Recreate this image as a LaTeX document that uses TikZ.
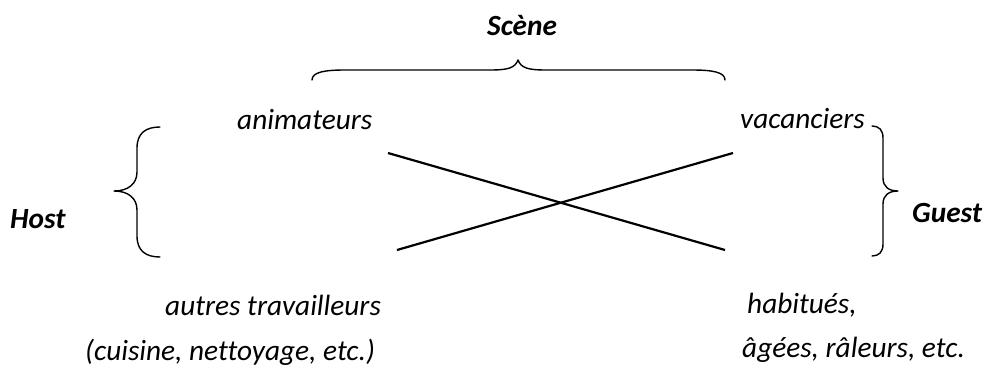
\documentclass[tikz,border=0pt]{standalone}
\usepackage{fontspec}
\setmainfont[Ligatures=NoCommon]{Carlito}
\begin{document}
\begin{tikzpicture}[x=1pt,y=-1pt,
  lbl/.style={anchor=base west,inner sep=0pt,font=\fontsize{29.3}{33}\selectfont\itshape},
  blbl/.style={anchor=base west,inner sep=0pt,font=\fontsize{29.3}{33}\selectfont\bfseries\itshape},
  bracepath/.style={line width=1.4pt,line cap=round,line join=round},
  cross/.style={line width=2.2pt}]
\useasboundingbox (0,0) rectangle (984,367);
% texts
\node[blbl] (scene) at (487,35) {Scène};
\node[lbl] (anim) at (237,129) {animateurs};
\node[lbl] (vac) at (740,128) {vacanciers};
\node[blbl] (host) at (10,228) {Host};
\node[blbl] (guest) at (912,222) {Guest};
\node[lbl] (autres) at (165,315) {autres travailleurs};
\node[lbl] (cuis) at (85,360) {(cuisine, nettoyage, etc.)};
\node[lbl] (hab) at (747,313) {habitués,};
\node[lbl] (ages) at (742,357) {âgées, râleurs, etc.};
% cross lines
\coordinate (a1) at (388,153);
\coordinate (a2) at (725,250);
\coordinate (b1) at (397,250);
\coordinate (b2) at (733,153);
\draw[cross] (a1) -- (a2);
\draw[cross] (b1) -- (b2);
% top brace
\draw[bracepath] (312,80) .. controls (312,72) and (325,70) .. (345,70)
  -- (490,70) .. controls (508,70) and (515,68) .. (518,60)
  .. controls (521,68) and (528,70) .. (546,70)
  -- (692,70) .. controls (712,70) and (725,72) .. (725,80);
% left brace
\draw[bracepath] (160,127) .. controls (146,127) and (137,133) .. (137,148)
  -- (137,172) .. controls (137,184) and (128,191) .. (114,191)
  .. controls (128,191) and (137,198) .. (137,210)
  -- (137,236) .. controls (137,251) and (146,257) .. (160,257);
% right brace
\draw[bracepath] (872,126) .. controls (879,126) and (883,130) .. (883,138)
  -- (883,178) .. controls (883,187) and (889,191) .. (898,191)
  .. controls (889,191) and (883,195) .. (883,204)
  -- (883,244) .. controls (883,252) and (879,256) .. (872,256);
\end{tikzpicture}
\end{document}
